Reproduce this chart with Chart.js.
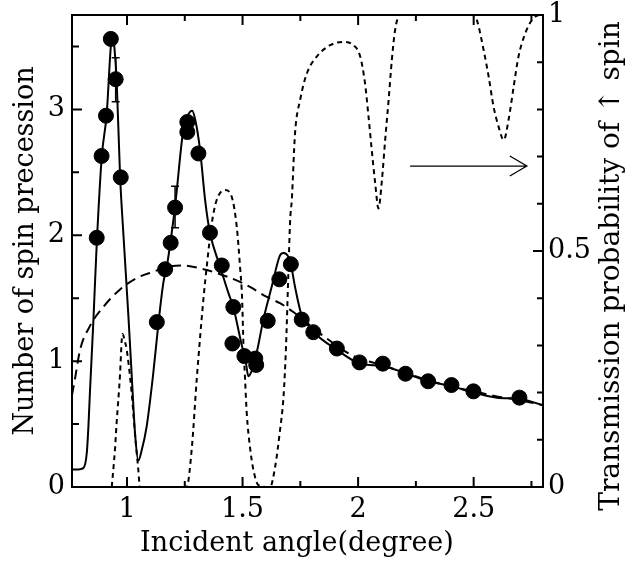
<!DOCTYPE html>
<html>
<head>
<meta charset="utf-8">
<script src="https://cdn.jsdelivr.net/npm/chart.js@4.4.0/dist/chart.umd.min.js"></script>
<style>
  html, body { margin: 0; padding: 0; background: #fff; }
</style>
</head>
<body>
<canvas id="spin_chart" width="641" height="563"></canvas>
<script>
// measured spin precession (filled dots, left axis)
const measuredAngle = [0.869, 0.890, 0.909, 0.930, 0.951, 0.973, 1.129, 1.165, 1.189, 1.208, 1.261, 1.261, 1.309, 1.359,
  1.410, 1.460, 1.456, 1.508, 1.555, 1.559, 1.609, 1.659, 1.709, 1.756, 1.806, 1.908, 2.006, 2.107, 2.205, 2.303, 2.404, 2.499, 2.698];
const measuredSpin = [1.98, 2.63, 2.95, 3.56, 3.24, 2.46, 1.31, 1.73, 1.94, 2.22, 2.90, 2.82, 2.65, 2.02,
  1.76, 1.43, 1.14, 1.04, 1.02, 0.97, 1.32, 1.65, 1.77, 1.33, 1.23, 1.10, 0.99, 0.98, 0.90, 0.84, 0.81, 0.76, 0.71];

// error bars on a few of the dots
const errAngle = [0.951, 1.208];
const errLow = [3.06, 2.06];
const errHigh = [3.41, 2.39];

// theory (solid line, left axis)
const theoryAngle = [0.762, 0.790, 0.811, 0.826, 0.833, 0.840, 0.854, 0.869, 0.891, 0.912, 0.930, 0.938, 0.945, 0.955, 0.970,
  0.984, 1.006, 1.020, 1.035, 1.049, 1.062, 1.085, 1.114, 1.136, 1.157, 1.172, 1.208, 1.244, 1.272, 1.282, 1.295, 1.316,
  1.338, 1.359, 1.403, 1.439, 1.460, 1.490, 1.515, 1.525, 1.545, 1.565, 1.590, 1.626, 1.662, 1.677, 1.698, 1.710, 1.727,
  1.756, 1.785, 1.807, 1.908, 2.009, 2.110, 2.211, 2.304, 2.406, 2.499, 2.600, 2.701, 2.800];
const theorySpin = [0.14, 0.14, 0.15, 0.27, 0.48, 0.77, 1.30, 1.93, 2.63, 2.96, 3.50, 3.60, 3.50, 3.24, 2.47,
  2.02, 1.36, 0.90, 0.42, 0.21, 0.28, 0.48, 0.91, 1.30, 1.62, 1.75, 2.23, 2.84, 2.98, 2.99, 2.92, 2.68,
  2.28, 2.02, 1.75, 1.54, 1.43, 1.18, 0.98, 0.88, 0.95, 1.10, 1.33, 1.59, 1.84, 1.86, 1.83, 1.76, 1.59,
  1.36, 1.28, 1.23, 1.09, 0.98, 0.96, 0.90, 0.84, 0.80, 0.75, 0.71, 0.70, 0.65];

// classical estimate (long dashes, left axis)
const classicAngle = [0.762, 0.775, 0.797, 0.840, 0.897, 0.970, 1.042, 1.114, 1.180, 1.244, 1.331, 1.388, 1.489, 1.532,
  1.605, 1.662, 1.720, 1.850, 1.980, 2.100, 2.200, 2.300, 2.400, 2.500, 2.600, 2.700, 2.800];
const classicSpin = [0.73, 0.86, 1.09, 1.28, 1.43, 1.57, 1.66, 1.71, 1.75, 1.76, 1.73, 1.70, 1.63, 1.59,
  1.51, 1.46, 1.39, 1.20, 1.04, 0.97, 0.91, 0.85, 0.80, 0.76, 0.72, 0.69, 0.65];

// transmission probability of up spin (short dashes, right axis)
const transAngle = [0.934, 0.948, 0.955, 0.970, 0.977, 0.981, 0.990, 0.999, 1.020, 1.035, 1.049, 1.056, 1.258, 1.280,
  1.302, 1.331, 1.345, 1.367, 1.388, 1.424, 1.453, 1.475, 1.489, 1.498, 1.504, 1.511, 1.518, 1.532, 1.547, 1.569, 1.619,
  1.641, 1.662, 1.677, 1.688, 1.698, 1.706, 1.713, 1.727, 1.749, 1.778, 1.821, 1.879, 1.936, 1.980, 2.009, 2.030, 2.045,
  2.059, 2.074, 2.088, 2.103, 2.117, 2.132, 2.146, 2.160, 2.180, 2.500, 2.514, 2.543, 2.565, 2.586, 2.608, 2.630, 2.651,
  2.673, 2.694, 2.723, 2.752, 2.788, 2.800];
const transProb = [0, 0.08, 0.135, 0.24, 0.31, 0.324, 0.31, 0.29, 0.20, 0.11, 0.036, 0, 0, 0.08,
  0.23, 0.40, 0.467, 0.559, 0.608, 0.629, 0.615, 0.551, 0.467, 0.40, 0.30, 0.227, 0.157, 0.085, 0.036, 0.004, 0,
  0.043, 0.12, 0.19, 0.297, 0.45, 0.566, 0.608, 0.749, 0.820, 0.876, 0.912, 0.936, 0.943, 0.936, 0.912, 0.855, 0.785,
  0.714, 0.643, 0.590, 0.650, 0.735, 0.820, 0.905, 0.968, 1.0, 1.0, 0.989, 0.926, 0.869, 0.806, 0.763, 0.735, 0.778,
  0.848, 0.912, 0.961, 0.989, 1.0, 1.0];

// axis ticks
const angleTicks = [1, 1.5, 2, 2.5];
const angleMinor = [1.25, 1.75, 2.25, 2.75];
const spinTicks = [0, 1, 2, 3];
const spinMinor = [0.5, 1.5, 2.5, 3.5];
const probTicks = [0, 0.5, 1];
const probMinor = [0.1, 0.2, 0.3, 0.4, 0.6, 0.7, 0.8, 0.9];

// arrow pointing to the right axis
const arrowFrom = [2.225, 2.55];
const arrowTo = [2.730, 2.55];

const xTitle = 'Incident angle(degree)';
const rightTitle = 'Transmission probability of \u2191 spin';

function pts(xs, ys) {
  return xs.map((x, i) => ({x: x, y: ys[i]}));
}

function setTicks(values) {
  return function (scale) {
    scale.ticks = values.map(v => ({value: v}));
  };
}

const extras = {
  id: 'extras',
  afterDraw(chart) {
    const ctx = chart.ctx;
    const a = chart.chartArea;
    const sx = chart.scales.x, sy = chart.scales.y, sy1 = chart.scales.y1;
    ctx.save();
    ctx.strokeStyle = '#000';
    ctx.lineWidth = 2;

    // frame
    ctx.strokeRect(a.left, a.top, a.right - a.left, a.bottom - a.top);

    // inward ticks
    ctx.beginPath();
    angleTicks.concat(angleMinor).forEach(v => {
      const len = angleTicks.includes(v) ? 10 : 6;
      const px = sx.getPixelForValue(v);
      ctx.moveTo(px, a.bottom); ctx.lineTo(px, a.bottom - len);
      ctx.moveTo(px, a.top); ctx.lineTo(px, a.top + len);
    });
    spinTicks.concat(spinMinor).forEach(v => {
      const len = spinTicks.includes(v) ? 10 : 7;
      const py = sy.getPixelForValue(v);
      ctx.moveTo(a.left, py); ctx.lineTo(a.left + len, py);
    });
    probTicks.concat(probMinor).forEach(v => {
      const len = probTicks.includes(v) ? 10 : 6;
      const py = sy1.getPixelForValue(v);
      ctx.moveTo(a.right, py); ctx.lineTo(a.right - len, py);
    });
    ctx.stroke();

    // error bars
    ctx.lineWidth = 1.5;
    ctx.beginPath();
    errAngle.forEach((v, i) => {
      const px = sx.getPixelForValue(v);
      const lo = sy.getPixelForValue(errLow[i]);
      const hi = sy.getPixelForValue(errHigh[i]);
      ctx.moveTo(px, lo); ctx.lineTo(px, hi);
      ctx.moveTo(px - 4, lo); ctx.lineTo(px + 4, lo);
      ctx.moveTo(px - 4, hi); ctx.lineTo(px + 4, hi);
    });
    ctx.stroke();

    // arrow
    const x0 = sx.getPixelForValue(arrowFrom[0]), y0 = sy.getPixelForValue(arrowFrom[1]);
    const x1 = sx.getPixelForValue(arrowTo[0]), y1 = sy.getPixelForValue(arrowTo[1]);
    ctx.lineWidth = 1.3;
    ctx.beginPath();
    ctx.moveTo(x0, y0); ctx.lineTo(x1, y1);
    ctx.moveTo(x1 - 17, y1 - 10); ctx.lineTo(x1, y1); ctx.lineTo(x1 - 17, y1 + 10);
    ctx.stroke();

    // titles
    ctx.fillStyle = '#000';
    ctx.font = "27px 'DejaVu Serif'";
    ctx.textAlign = 'center';
    ctx.textBaseline = 'middle';
    ctx.fillText(xTitle, 297, 544);
    ctx.font = "28px 'DejaVu Serif'";
    ctx.translate(612, 266);
    ctx.rotate(-Math.PI / 2);
    ctx.fillText(rightTitle, 0, 0);
    ctx.restore();
  }
};

Chart.defaults.font.family = "'DejaVu Serif', serif";
Chart.defaults.color = '#000';

const ctx = document.getElementById('spin_chart').getContext('2d');
const chart = new Chart(ctx, {
  type: 'scatter',
  data: {
    datasets: [{
      label: 'measured',
      data: pts(measuredAngle, measuredSpin),
      yAxisID: 'y',
      backgroundColor: '#000',
      borderColor: '#000',
      pointRadius: 7.5,
      showLine: false
    }, {
      label: 'theory',
      data: pts(theoryAngle, theorySpin),
      yAxisID: 'y',
      showLine: true,
      borderColor: '#000',
      borderWidth: 2,
      pointRadius: 0,
      cubicInterpolationMode: 'monotone'
    }, {
      label: 'classical',
      data: pts(classicAngle, classicSpin),
      yAxisID: 'y',
      showLine: true,
      borderColor: '#000',
      borderWidth: 2,
      borderDash: [10, 6],
      pointRadius: 0,
      cubicInterpolationMode: 'monotone'
    }, {
      label: 'transmission',
      data: pts(transAngle, transProb),
      yAxisID: 'y1',
      showLine: true,
      borderColor: '#000',
      borderWidth: 2,
      borderDash: [5, 4],
      pointRadius: 0,
      cubicInterpolationMode: 'monotone'
    }]
  },
  options: {
    responsive: false,
    animation: false,
    events: [],
    devicePixelRatio: 1,
    layout: { padding: { top: 15, right: 0, left: 0, bottom: 0 } },
    plugins: {
      legend: { display: false },
      tooltip: { enabled: false }
    },
    scales: {
      x: {
        type: 'linear',
        min: 0.762,
        max: 2.8,
        afterBuildTicks: setTicks(angleTicks),
        afterFit(scale) { scale.height = 76; scale.paddingLeft = 0; scale.paddingRight = 0; },
        grid: { display: false, drawTicks: false },
        border: { display: false },
        ticks: { font: { size: 27 }, padding: 7, callback: v => String(v) }
      },
      y: {
        position: 'left',
        min: 0,
        max: 3.75,
        afterBuildTicks: setTicks(spinTicks),
        afterFit(scale) { scale.width = 72; scale.paddingTop = 0; scale.paddingBottom = 0; },
        grid: { display: false, drawTicks: false },
        border: { display: false },
        ticks: { font: { size: 27 }, padding: 7, callback: v => String(v) },
        title: { display: true, text: 'Number of spin precession', font: { size: 27 }, padding: { top: 10, bottom: 0 } }
      },
      y1: {
        position: 'right',
        min: 0,
        max: 1,
        afterBuildTicks: setTicks(probTicks),
        afterFit(scale) { scale.width = 98; scale.paddingTop = 0; scale.paddingBottom = 0; },
        grid: { display: false, drawTicks: false },
        border: { display: false },
        ticks: { font: { size: 27 }, padding: 5, callback: v => String(v) }
      }
    }
  },
  plugins: [extras]
});
</script>
</body>
</html>
